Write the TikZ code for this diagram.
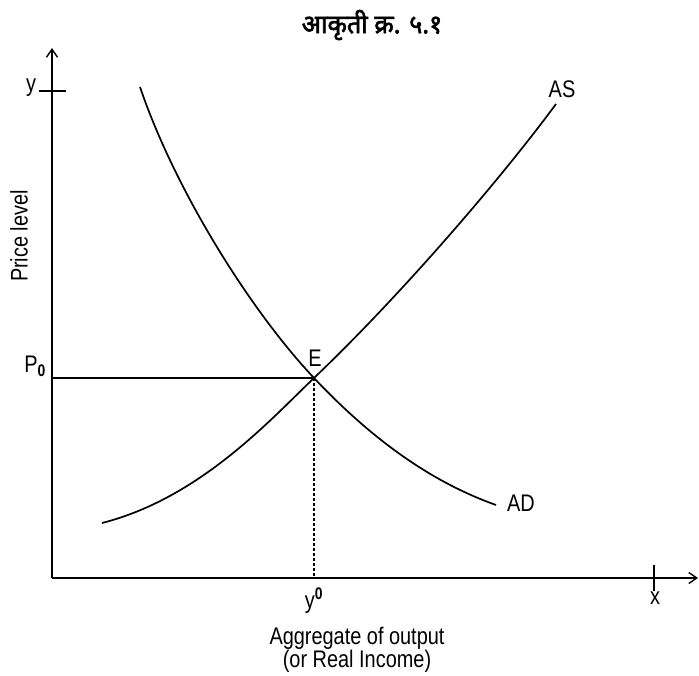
\documentclass[tikz,border=0pt]{standalone}
\usepackage{fontspec}
\setmainfont{Liberation Sans}
\newfontfamily\devfont[Script=Devanagari, FakeBold=2.5]{Noto Sans}
\usetikzlibrary{arrows.meta, positioning, calc}

\begin{document}
\begin{tikzpicture}[
		x=1pt, y=-1pt,
		font=\fontsize{24}{27}\selectfont,
		% Style for the two axes
		axis/.style={line width=1.7pt, -{Straight Barb[length=8pt, width=11pt, line width=1.4pt]}},
		% Style for the curves and guide lines
		curve/.style={line width=1.7pt},
		guide/.style={line width=1.4pt},
		labelnode/.style={inner sep=1pt, xscale=0.83}
		]
		
		\useasboundingbox (0,0) rectangle (699,675);
		
		% --- TITLE ---
		\node[inner sep=1pt, xscale=0.97, font=\devfont\fontsize{26}{28}\selectfont] (title) at (372,25) {आकृती क्र. ५.१};
		
		% --- AXES ---
		\coordinate (O) at (52,578);
		\coordinate (ytop) at (52,48);
		\coordinate (xend) at (698,578);
		\draw[axis] (O) -- (ytop);
		\draw[axis] (O) -- (xend);
		
		% ticks on the axes
		\coordinate (ytickL) at (39,91);
		\coordinate (ytickR) at (66,91);
		\coordinate (xtickT) at (654,565);
		\coordinate (xtickB) at (654,591);
		\draw[guide] (ytickL) -- (ytickR);
		\draw[guide] (xtickT) -- (xtickB);
		\node[labelnode] (ylab) at (31,88) {y};
		\node[labelnode] (xlab) at (655,598) {x};
		
		% --- CURVES ---
		\coordinate (E) at (314,378);
		\draw[curve] (102,523) .. controls (200,498) and (270,420) .. (E)
			.. controls (400,296) and (500,180) .. (556,104) coordinate (AStop);
		\draw[curve] (140,87) .. controls (175,190) and (250,310) .. (E)
			.. controls (380,448) and (440,485) .. (496,505) coordinate (ADend);
		\node[labelnode] (AS) at (562,89) {AS};
		\node[labelnode] (AD) at (521,503) {AD};
		\node[labelnode] (Elab) at (315,358) {E};
		
		% --- EQUILIBRIUM LINES ---
		\coordinate (P0) at (O |- E);
		\coordinate (Y0) at (E |- O);
		\draw[guide] (P0) -- (E);
		\draw[guide, dashed, dash pattern=on 3pt off 2pt] (E) -- (Y0);
		\node[labelnode] (P0lab) at (35,366) {P\textsubscript{\bfseries 0}};
		\node[labelnode] (Y0lab) at (314,601) {y\textsuperscript{\bfseries 0}};
		
		% --- AXIS TITLES ---
		\node[inner sep=1pt, rotate=90, xscale=0.83] (ptitle) at (19,236) {Price level};
		\node[labelnode, align=center, font=\fontsize{24}{23}\selectfont] (xtitle) at (357,650) {Aggregate of output\\(or Real Income)};
		
	\end{tikzpicture}
\end{document}
